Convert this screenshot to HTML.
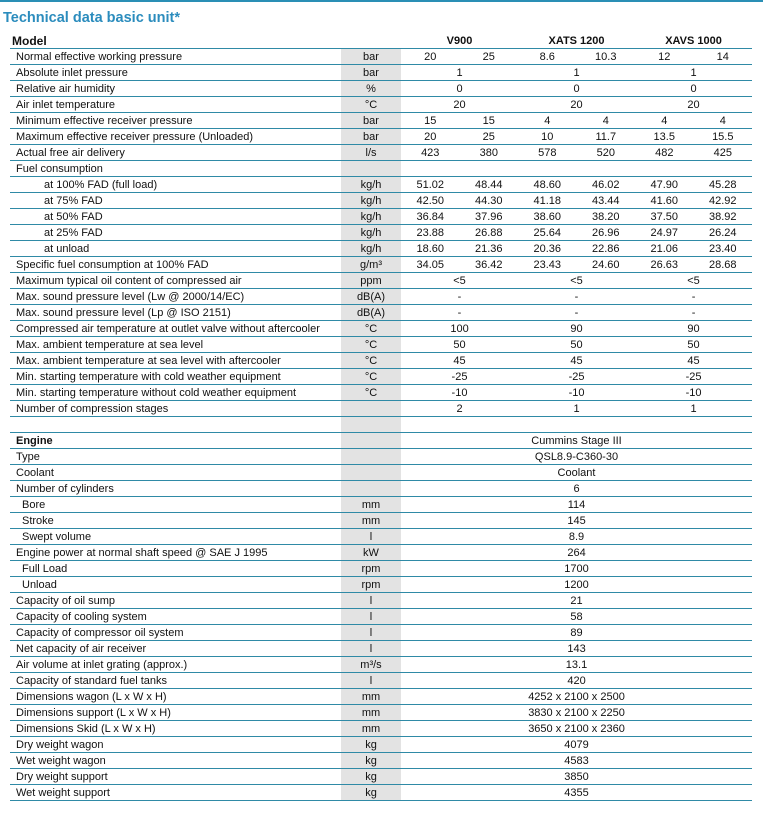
<!DOCTYPE html>
<html><head><meta charset="utf-8"><style>
body{margin:0;width:763px;height:823px;background:#fff;position:relative;font-family:"Liberation Sans",Arial,sans-serif;color:#111;overflow:hidden}
.top{position:absolute;left:0;top:0;width:763px;height:2px;background:#2a8fb5}
.title{position:absolute;left:3px;top:10px;font-size:14.5px;font-weight:bold;color:#2b8cbd}
table{position:absolute;left:10px;top:33px;border-collapse:separate;border-spacing:0;table-layout:fixed;width:742px;font-size:11px}
td{box-sizing:border-box;height:16px;padding:1px 0 0 0;border-bottom:1px solid #2f8aa6;white-space:nowrap;text-align:center;line-height:14px;overflow:hidden}
td.l{text-align:left;padding-left:6px}
td.u{background:#e3e3e3}
td.i1{padding-left:34px}
td.i2{padding-left:12px}
tr.h td{font-weight:bold}
tr.h td.l{font-size:12px;padding-left:2px}
</style></head><body>
<div class="top"></div>
<div class="title">Technical data basic unit*</div>
<table>
<colgroup><col style="width:331px"><col style="width:60px"><col style="width:58.5px"><col style="width:58.5px"><col style="width:58.5px"><col style="width:58.5px"><col style="width:58.5px"><col style="width:58.5px"></colgroup>
<tr class="h"><td class="l">Model</td><td></td><td colspan="2">V900</td><td colspan="2">XATS 1200</td><td colspan="2">XAVS 1000</td></tr>
<tr><td class="l">Normal effective working pressure</td><td class="u">bar</td><td>20</td><td>25</td><td>8.6</td><td>10.3</td><td>12</td><td>14</td></tr>
<tr><td class="l">Absolute inlet pressure</td><td class="u">bar</td><td colspan="2">1</td><td colspan="2">1</td><td colspan="2">1</td></tr>
<tr><td class="l">Relative air humidity</td><td class="u">%</td><td colspan="2">0</td><td colspan="2">0</td><td colspan="2">0</td></tr>
<tr><td class="l">Air inlet temperature</td><td class="u">°C</td><td colspan="2">20</td><td colspan="2">20</td><td colspan="2">20</td></tr>
<tr><td class="l">Minimum effective receiver pressure</td><td class="u">bar</td><td>15</td><td>15</td><td>4</td><td>4</td><td>4</td><td>4</td></tr>
<tr><td class="l">Maximum effective receiver pressure (Unloaded)</td><td class="u">bar</td><td>20</td><td>25</td><td>10</td><td>11.7</td><td>13.5</td><td>15.5</td></tr>
<tr><td class="l">Actual free air delivery</td><td class="u">l/s</td><td>423</td><td>380</td><td>578</td><td>520</td><td>482</td><td>425</td></tr>
<tr><td class="l">Fuel consumption</td><td class="u"></td><td></td><td></td><td></td><td></td><td></td><td></td></tr>
<tr><td class="l i1">at 100% FAD (full load)</td><td class="u">kg/h</td><td>51.02</td><td>48.44</td><td>48.60</td><td>46.02</td><td>47.90</td><td>45.28</td></tr>
<tr><td class="l i1">at 75% FAD</td><td class="u">kg/h</td><td>42.50</td><td>44.30</td><td>41.18</td><td>43.44</td><td>41.60</td><td>42.92</td></tr>
<tr><td class="l i1">at 50% FAD</td><td class="u">kg/h</td><td>36.84</td><td>37.96</td><td>38.60</td><td>38.20</td><td>37.50</td><td>38.92</td></tr>
<tr><td class="l i1">at 25% FAD</td><td class="u">kg/h</td><td>23.88</td><td>26.88</td><td>25.64</td><td>26.96</td><td>24.97</td><td>26.24</td></tr>
<tr><td class="l i1">at unload</td><td class="u">kg/h</td><td>18.60</td><td>21.36</td><td>20.36</td><td>22.86</td><td>21.06</td><td>23.40</td></tr>
<tr><td class="l">Specific fuel consumption at 100% FAD</td><td class="u">g/m³</td><td>34.05</td><td>36.42</td><td>23.43</td><td>24.60</td><td>26.63</td><td>28.68</td></tr>
<tr><td class="l">Maximum typical oil content of compressed air</td><td class="u">ppm</td><td colspan="2">&lt;5</td><td colspan="2">&lt;5</td><td colspan="2">&lt;5</td></tr>
<tr><td class="l">Max. sound pressure level (Lw @ 2000/14/EC)</td><td class="u">dB(A)</td><td colspan="2">-</td><td colspan="2">-</td><td colspan="2">-</td></tr>
<tr><td class="l">Max. sound pressure level (Lp @ ISO 2151)</td><td class="u">dB(A)</td><td colspan="2">-</td><td colspan="2">-</td><td colspan="2">-</td></tr>
<tr><td class="l">Compressed air temperature at outlet valve without aftercooler</td><td class="u">°C</td><td colspan="2">100</td><td colspan="2">90</td><td colspan="2">90</td></tr>
<tr><td class="l">Max. ambient temperature at sea level</td><td class="u">°C</td><td colspan="2">50</td><td colspan="2">50</td><td colspan="2">50</td></tr>
<tr><td class="l">Max. ambient temperature at sea level with aftercooler</td><td class="u">°C</td><td colspan="2">45</td><td colspan="2">45</td><td colspan="2">45</td></tr>
<tr><td class="l">Min. starting temperature with cold weather equipment</td><td class="u">°C</td><td colspan="2">-25</td><td colspan="2">-25</td><td colspan="2">-25</td></tr>
<tr><td class="l">Min. starting temperature without cold weather equipment</td><td class="u">°C</td><td colspan="2">-10</td><td colspan="2">-10</td><td colspan="2">-10</td></tr>
<tr><td class="l">Number of compression stages</td><td class="u"></td><td colspan="2">2</td><td colspan="2">1</td><td colspan="2">1</td></tr>
<tr><td class="l"></td><td class="u"></td><td colspan="6"></td></tr>
<tr><td class="l" style="font-weight:bold">Engine</td><td class="u"></td><td colspan="6">Cummins Stage III</td></tr>
<tr><td class="l">Type</td><td class="u"></td><td colspan="6">QSL8.9-C360-30</td></tr>
<tr><td class="l">Coolant</td><td class="u"></td><td colspan="6">Coolant</td></tr>
<tr><td class="l">Number of cylinders</td><td class="u"></td><td colspan="6">6</td></tr>
<tr><td class="l i2">Bore</td><td class="u">mm</td><td colspan="6">114</td></tr>
<tr><td class="l i2">Stroke</td><td class="u">mm</td><td colspan="6">145</td></tr>
<tr><td class="l i2">Swept volume</td><td class="u">l</td><td colspan="6">8.9</td></tr>
<tr><td class="l">Engine power at normal shaft speed @ SAE J 1995</td><td class="u">kW</td><td colspan="6">264</td></tr>
<tr><td class="l i2">Full Load</td><td class="u">rpm</td><td colspan="6">1700</td></tr>
<tr><td class="l i2">Unload</td><td class="u">rpm</td><td colspan="6">1200</td></tr>
<tr><td class="l">Capacity of oil sump</td><td class="u">l</td><td colspan="6">21</td></tr>
<tr><td class="l">Capacity of cooling system</td><td class="u">l</td><td colspan="6">58</td></tr>
<tr><td class="l">Capacity of compressor oil system</td><td class="u">l</td><td colspan="6">89</td></tr>
<tr><td class="l">Net capacity of air receiver</td><td class="u">l</td><td colspan="6">143</td></tr>
<tr><td class="l">Air volume at inlet grating (approx.)</td><td class="u">m³/s</td><td colspan="6">13.1</td></tr>
<tr><td class="l">Capacity of standard fuel tanks</td><td class="u">l</td><td colspan="6">420</td></tr>
<tr><td class="l">Dimensions wagon (L x W x H)</td><td class="u">mm</td><td colspan="6">4252 x 2100 x 2500</td></tr>
<tr><td class="l">Dimensions support (L x W x H)</td><td class="u">mm</td><td colspan="6">3830 x 2100 x 2250</td></tr>
<tr><td class="l">Dimensions Skid (L x W x H)</td><td class="u">mm</td><td colspan="6">3650 x 2100 x 2360</td></tr>
<tr><td class="l">Dry weight wagon</td><td class="u">kg</td><td colspan="6">4079</td></tr>
<tr><td class="l">Wet weight wagon</td><td class="u">kg</td><td colspan="6">4583</td></tr>
<tr><td class="l">Dry weight support</td><td class="u">kg</td><td colspan="6">3850</td></tr>
<tr><td class="l">Wet weight support</td><td class="u">kg</td><td colspan="6">4355</td></tr>
</table>
</body></html>
